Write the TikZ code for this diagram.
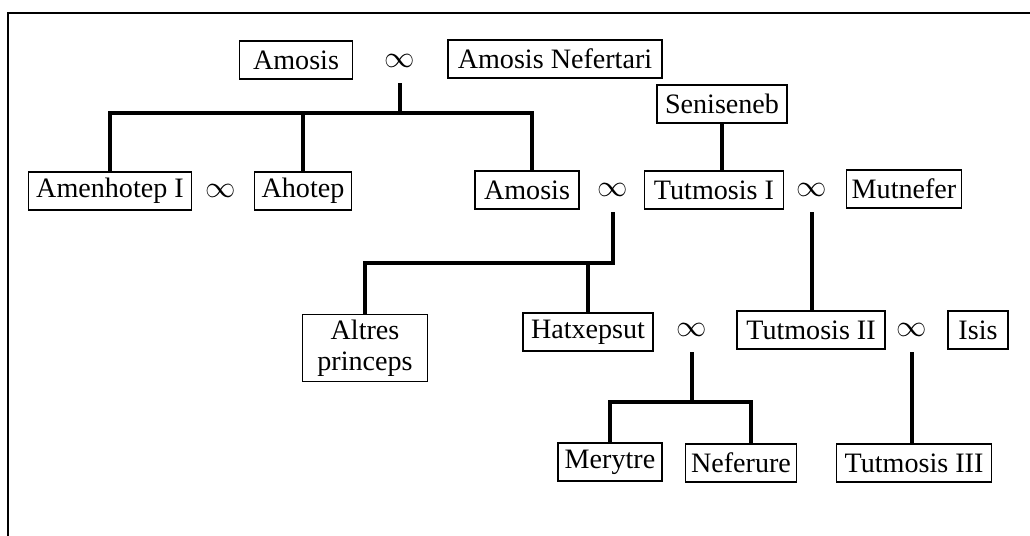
\documentclass[tikz,border=0pt]{standalone}
\usepackage{fontspec}
\setmainfont{Liberation Serif}
\usetikzlibrary{positioning}

\tikzset{
  persona/.style={draw, line width=0.7pt, minimum width=#1, minimum height=0.76cm,
    inner xsep=2pt, inner ysep=3pt, align=center,
    font=\fontsize{16pt}{17.5pt}\selectfont},
  casat/.style={minimum height=0.88cm, inner sep=0pt, font=\fontsize{18pt}{20pt}\selectfont},
  branca/.style={line width=0.08cm}
}

\begin{document}
\begin{tikzpicture}[x=0.02cm, y=-0.02cm]
            \useasboundingbox (0,0) rectangle (1030,536);
            \draw[line width=0.8pt] (8,540) -- (8,13) -- (1034,13);

            % first generation
            \node[persona=2.26cm] (amosis) at (296,60) {Amosis};
            \node[casat] (m1) at (400,61) {$\infty$};
            \node[persona=4.28cm] (amosisN) at (555,59) {Amosis Nefertari};
            \node[persona=2.6cm] (seniseneb) at (722,104) {Seniseneb};

            % second generation
            \node[persona=3.26cm] (amenhotep) at (110,191) {Amenhotep I};
            \node[casat] (m0) at (221,191) {$\infty$};
            \node[persona=1.94cm] (ahotep) at (303,191) {Ahotep};
            \node[persona=2.08cm] (amosisB) at (527,190) {Amosis};
            \node[casat] (m2) at (613,190) {$\infty$};
            \node[persona=2.78cm] (tutmosisI) at (714,190) {Tutmosis I};
            \node[casat] (m3) at (812,190) {$\infty$};
            \node[persona=2.3cm] (mutnefer) at (904,189) {Mutnefer};

            % third generation
            \node[persona=2.5cm] (altres) at (365,348) {Altres\\princeps};
            \node[persona=2.6cm] (hatxepsut) at (588,332) {Hatxepsut};
            \node[casat] (m4) at (692,330) {$\infty$};
            \node[persona=2.96cm] (tutmosisII) at (811,330) {Tutmosis II};
            \node[casat] (m5) at (912,330) {$\infty$};
            \node[persona=1.2cm] (isis) at (978,330) {Isis};

            % fourth generation
            \node[persona=2.08cm] (merytre) at (610,462) {Merytre};
            \node[persona=2.22cm] (neferure) at (741,463) {Neferure};
            \node[persona=3.1cm] (tutmosisIII) at (914,463) {Tutmosis III};

            % branches
            \coordinate (b1) at (0,113);
            \coordinate (b2) at (0,263);
            \coordinate (b3) at (0,402);
            \coordinate (nf) at ([xshift=0.2cm]neferure.north);
            \coordinate (am) at ([xshift=0.1cm]amosisB.north);

            \draw[branca] (m1.south) -- (m1.south |- b1);
            \draw[branca] (amenhotep.north) |- (am |- b1) -- (am);
            \draw[branca] (ahotep.north) -- (ahotep.north |- b1);
            \draw[branca] (seniseneb.south) -- (seniseneb.south |- tutmosisI.north);

            \draw[branca] (m2.south) -- (m2.south |- b2) -| (altres.north);
            \draw[branca] (hatxepsut.north) -- (hatxepsut.north |- b2);
            \draw[branca] (m3.south) -- (m3.south |- tutmosisII.north);

            \draw[branca] (m4.south) -- (m4.south |- b3);
            \draw[branca] (merytre.north) |- (nf |- b3) -- (nf);
            \draw[branca] (m5.south) -- (m5.south |- tutmosisIII.north);
        \end{tikzpicture}
\end{document}
